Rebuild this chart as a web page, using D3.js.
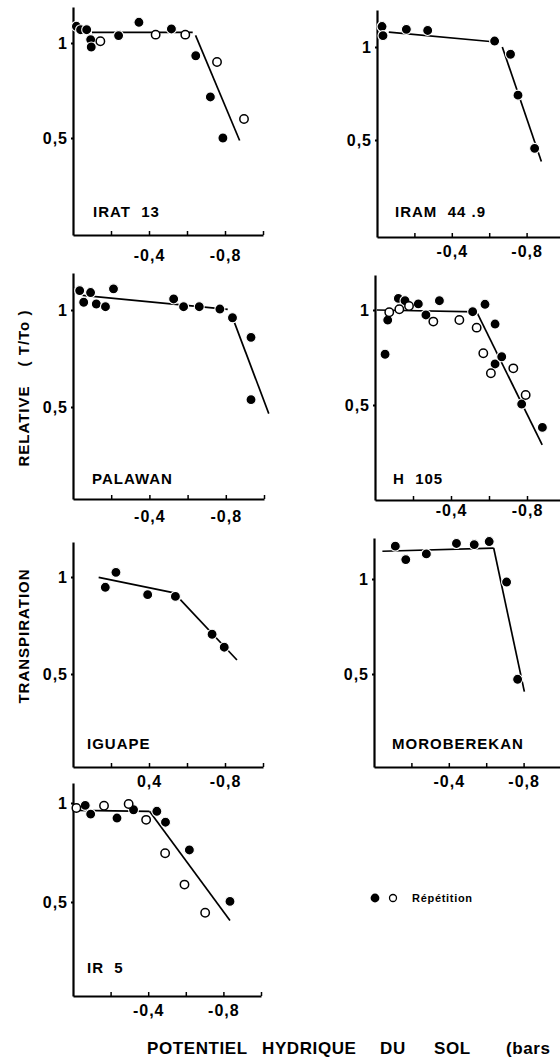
<!DOCTYPE html>
<html><head><meta charset="utf-8">
<script src="https://cdn.jsdelivr.net/npm/d3@7"></script>
<style>
body{margin:0;background:#fff;}
svg text{font-family:"Liberation Sans",Arial,Helvetica,sans-serif;font-weight:bold;fill:#000;white-space:pre;}
</style></head><body>
<svg id="c" width="560" height="1060"></svg>
<script>
// ---------- DATA ----------
const panelNames = ["IRAT  13", "IRAM  44 .9", "PALAWAN", "H  105", "IGUAPE", "MOROBEREKAN", "IR  5"];
const yTickValues = [0.5, 1];
const yTickLabels = ["0,5", "1"];
const xTickMarks = [-0.2, -0.4, -0.6, -0.8, -1.0];
const xLabelValues = [-0.4, -0.8];
const xLabelsStd = ["-0,4", "-0,8"];
const xLabelsIguape = ["0,4", "-0,8"];

// soil water potential (bars), relative transpiration T/To
const irat13Filled = [[-0.018,1.088],[-0.04,1.07],[-0.072,1.07],[-0.093,1.018],[-0.096,0.979],[-0.24,1.039],[-0.347,1.109],[-0.518,1.074],[-0.646,0.933],[-0.723,0.716],[-0.789,0.5]];
const irat13Open = [[-0.144,1.009],[-0.435,1.044],[-0.591,1.044],[-0.758,0.9],[-0.9,0.6]];
const irat13Fit = [[[-0.1,1.056],[-0.63,1.056]], [[-0.645,1.04],[-0.877,0.487]]];

const iram449Filled = [[-0.027,1.11],[-0.032,1.061],[-0.157,1.095],[-0.271,1.089],[-0.629,1.032],[-0.714,0.961],[-0.754,0.741],[-0.843,0.455]];
const iram449Open = [];
const iram449Fit = [[[-0.063,1.08],[-0.634,1.027]], [[-0.67,1.0],[-0.879,0.384]]];

const palawanFilled = [[-0.035,1.1],[-0.056,1.04],[-0.092,1.09],[-0.122,1.031],[-0.17,1.017],[-0.212,1.109],[-0.527,1.057],[-0.579,1.017],[-0.661,1.017],[-0.769,1.005],[-0.835,0.96],[-0.932,0.859],[-0.932,0.538]];
const palawanOpen = [];
const palawanFit = [[[-0.05,1.075],[-0.81,1.003]], [[-0.83,0.975],[-1.025,0.466]]];

const h105Filled = [[-0.053,0.767],[-0.067,0.947],[-0.123,1.061],[-0.158,1.049],[-0.228,1.032],[-0.268,0.974],[-0.339,1.049],[-0.514,0.991],[-0.579,1.03],[-0.632,0.926],[-0.632,0.716],[-0.667,0.754],[-0.772,0.505],[-0.881,0.382]];
const h105Open = [[-0.075,0.988],[-0.128,1.004],[-0.179,1.021],[-0.307,0.939],[-0.444,0.947],[-0.535,0.907],[-0.57,0.772],[-0.61,0.667],[-0.728,0.693],[-0.793,0.553]];
const h105Fit = [[[-0.01,1.0],[-0.535,0.99]], [[-0.535,0.99],[-0.88,0.29]]];

const iguapeFilled = [[-0.17,0.947],[-0.226,1.024],[-0.393,0.909],[-0.539,0.9],[-0.732,0.705],[-0.796,0.638]];
const iguapeOpen = [];
const iguapeFit = [[[-0.135,0.998],[-0.539,0.917]], [[-0.565,0.883],[-0.863,0.572]]];

const moroberekanFilled = [[-0.114,1.173],[-0.17,1.102],[-0.28,1.132],[-0.441,1.187],[-0.536,1.181],[-0.616,1.197],[-0.709,0.984],[-0.768,0.472]];
const moroberekanOpen = [];
const moroberekanFit = [[[-0.045,1.146],[-0.64,1.163]], [[-0.64,1.163],[-0.804,0.407]]];

const ir5Filled = [[-0.065,0.988],[-0.094,0.944],[-0.234,0.924],[-0.322,0.966],[-0.446,0.958],[-0.492,0.903],[-0.619,0.763],[-0.835,0.503]];
const ir5Open = [[-0.018,0.975],[-0.165,0.986],[-0.296,0.995],[-0.389,0.915],[-0.49,0.746],[-0.593,0.588],[-0.703,0.446]];
const ir5Fit = [[[-0.027,0.963],[-0.407,0.958]], [[-0.407,0.958],[-0.835,0.407]]];

const legendLabel = "Répétition";
const xTitleWords = ["POTENTIEL", "HYDRIQUE", "DU", "SOL", "(bars"];
const yTitleWords = ["TRANSPIRATION", "RELATIVE", "( T/To )"];

// ---------- LAYOUT ----------
const layout = [
  {x0:73,  kx:190, axisY:235, yTop:7,   y1:43,  y05:138, lblDy:26, nx:93,  ny:217},
  {x0:377, kx:187, axisY:237, yTop:10,  y1:47,  y05:140, lblDy:20, nx:395, ny:217},
  {x0:73,  kx:191, axisY:499, yTop:273, y1:310, y05:407, lblDy:23, nx:92,  ny:484},
  {x0:375, kx:190, axisY:500, yTop:275, y1:310, y05:405, lblDy:16, nx:393, ny:484},
  {x0:73,  kx:190, axisY:767, yTop:542, y1:577, y05:674, lblDy:20, nx:87,  ny:749},
  {x0:374, kx:187, axisY:767, yTop:538, y1:579, y05:674, lblDy:20, nx:392, ny:749},
  {x0:73,  kx:188, axisY:996, yTop:783, y1:803, y05:902, lblDy:20, nx:87,  ny:973}
];
const panelData = [
  [irat13Filled, irat13Open, irat13Fit, xLabelsStd],
  [iram449Filled, iram449Open, iram449Fit, xLabelsStd],
  [palawanFilled, palawanOpen, palawanFit, xLabelsStd],
  [h105Filled, h105Open, h105Fit, xLabelsStd],
  [iguapeFilled, iguapeOpen, iguapeFit, xLabelsIguape],
  [moroberekanFilled, moroberekanOpen, moroberekanFit, xLabelsStd],
  [ir5Filled, ir5Open, ir5Fit, xLabelsStd]
];

const svg = d3.select("#c");
const fs = 16;

panelNames.forEach((name, i) => {
  const L = layout[i];
  const [filled, open, fits, xLabels] = panelData[i];
  const y = d3.scaleLinear().domain([0.5, 1]).range([L.y05, L.y1]);
  const yA = d3.scaleLinear().domain([y.invert(L.axisY), y.invert(L.yTop)]).range([L.axisY, L.yTop]);
  const x = d3.scaleLinear().domain([0, -1]).range([L.x0, L.x0 + L.kx]);
  const g = svg.append("g");

  // x axis
  const xa = g.append("g").attr("transform", `translate(0,${L.axisY})`)
    .call(d3.axisBottom(x).tickValues(xTickMarks).tickSizeInner(-4).tickSizeOuter(0)
      .tickPadding(L.lblDy - 0.71 * fs)
      .tickFormat(d => { const k = xLabelValues.findIndex(v => Math.abs(v - d) < 1e-9); return k >= 0 ? xLabels[k] : ""; }));
  xa.attr("font-size", fs).attr("font-family", null);
  xa.select(".domain").attr("stroke-width", 2);
  xa.selectAll(".tick line").attr("stroke-width", 1.5);
  xa.selectAll(".tick text").attr("letter-spacing", 1);

  // y axis
  const ya = g.append("g").attr("transform", `translate(${L.x0},0)`)
    .call(d3.axisLeft(yA).tickValues(yTickValues).tickSizeInner(2).tickSizeOuter(0).tickPadding(3)
      .tickFormat(d => yTickLabels[yTickValues.indexOf(d)]));
  ya.attr("font-size", fs).attr("font-family", null);
  ya.select(".domain").attr("stroke-width", 2.2);
  ya.selectAll(".tick line").attr("stroke-width", 2);
  ya.selectAll(".tick text").attr("letter-spacing", 1);

  // fitted lines
  const line = d3.line().x(d => x(d[0])).y(d => y(d[1]));
  g.selectAll("path.fit").data(fits).join("path").attr("class", "fit")
    .attr("d", line).attr("fill", "none").attr("stroke", "#000").attr("stroke-width", 1.7);

  // points
  g.selectAll("circle.f").data(filled).join("circle").attr("class", "f")
    .attr("cx", d => x(d[0])).attr("cy", d => y(d[1])).attr("r", 5)
    .attr("fill", "#000").attr("stroke", "#fff").attr("stroke-width", 1.1);
  g.selectAll("circle.o").data(open).join("circle").attr("class", "o")
    .attr("cx", d => x(d[0])).attr("cy", d => y(d[1])).attr("r", 4.2)
    .attr("fill", "#fff").attr("stroke", "#000").attr("stroke-width", 1.5);

  // panel name
  g.append("text").attr("x", L.nx).attr("y", L.ny).attr("font-size", 15)
    .attr("letter-spacing", 1).text(name);
});

// legend
svg.append("circle").attr("cx", 375).attr("cy", 898).attr("r", 4.4).attr("fill", "#000");
svg.append("circle").attr("cx", 393).attr("cy", 898).attr("r", 3.5).attr("fill", "#fff").attr("stroke", "#000").attr("stroke-width", 1.3);
svg.append("text").attr("x", 412).attr("y", 902).attr("font-size", 11).attr("letter-spacing", 0.7).text(legendLabel);

// x title
const xtX = [147, 262, 380, 434, 506];
const xt = svg.append("text").attr("y", 1054).attr("font-size", 17).attr("letter-spacing", 0.6);
xt.selectAll("tspan").data(xTitleWords).join("tspan").attr("x", (d, i) => xtX[i]).text(d => d);

// y title
const ytY = [636, 426, 338];
yTitleWords.forEach((w, i) => {
  svg.append("text").attr("transform", `translate(29,${ytY[i]}) rotate(-90)`)
    .attr("text-anchor", "middle").attr("font-size", 15).attr("letter-spacing", 1).text(w);
});
</script>
</body></html>
